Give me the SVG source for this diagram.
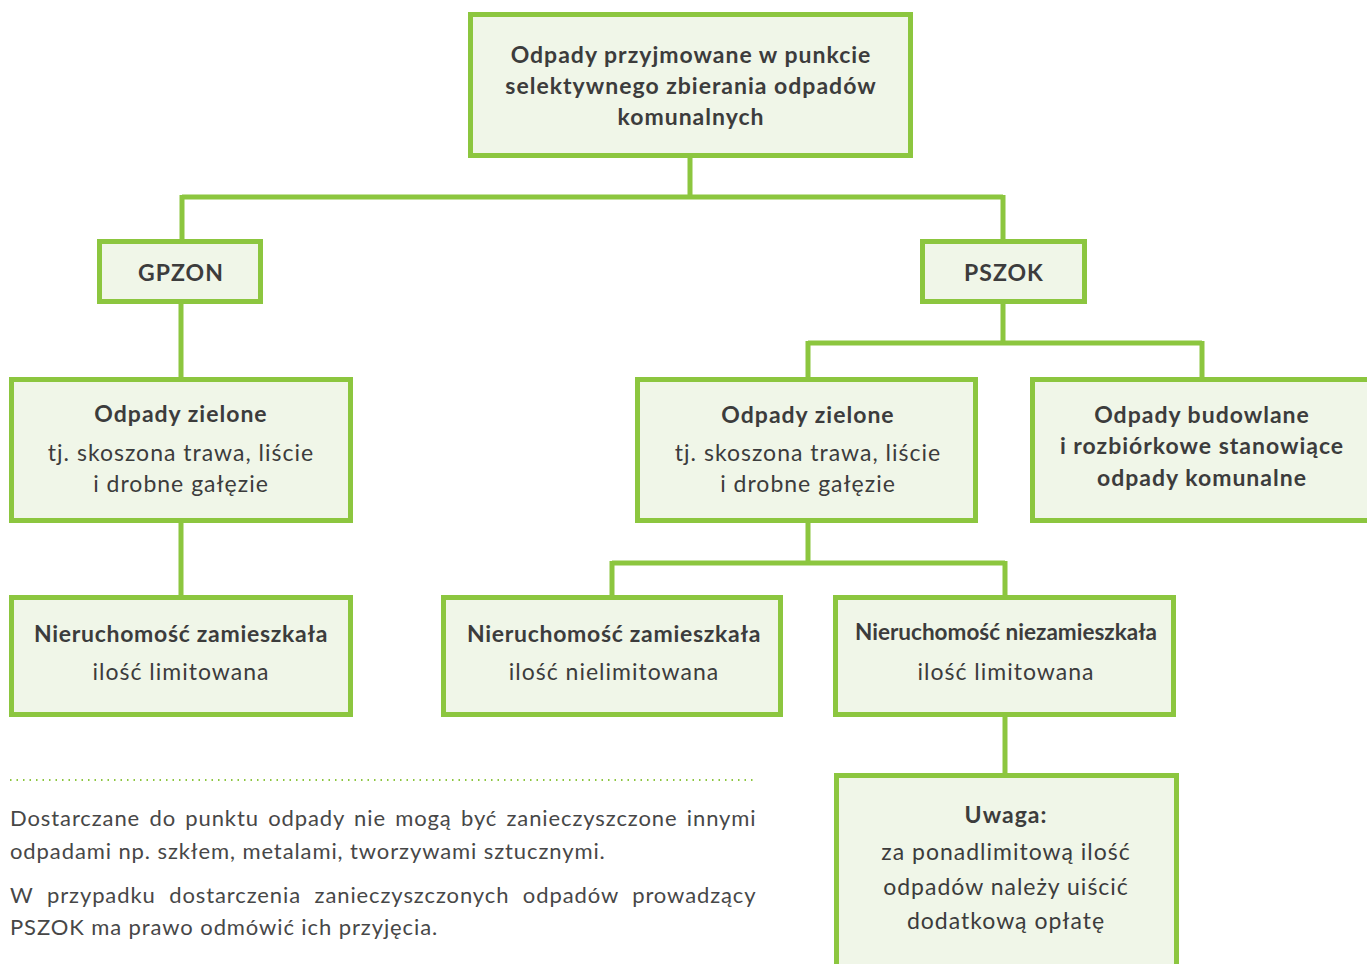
<svg xmlns="http://www.w3.org/2000/svg" width="1367" height="964" viewBox="0 0 1367 964">
<style>
.box{fill:#f0f6e8;stroke:#8cc63f;stroke-width:5}
.ln{fill:none;stroke:#8cc63f;stroke-width:5}
text{font-family:Lato,"Open Sans","Liberation Sans",sans-serif;fill:#3c3c3c;font-size:23px;letter-spacing:1px}
.b{font-weight:bold;text-anchor:middle}
.r{text-anchor:middle}
.p{font-size:22px;fill:#474747;letter-spacing:0.9px}
</style>
<rect width="1367" height="964" fill="#ffffff"/>
<g id="connectors">
<path class="ln" d="M690 158V197M182 197H1003M182 195V240M1003 195V240"/>
<path class="ln" d="M181 304V378M181 523V596"/>
<path class="ln" d="M1003 304V343M808 343H1202M808 341V378M1202 341V378"/>
<path class="ln" d="M808 523V563M612 563H1005M612 561V596M1005 561V596"/>
<path class="ln" d="M1005 717V773"/>
</g>
<g id="top">
<rect class="box" x="470.5" y="14.5" width="440" height="141"/>
<text class="b" x="691" y="63">Odpady przyjmowane w punkcie</text>
<text class="b" x="691" y="94">selektywnego zbierania odpadów</text>
<text class="b" x="691" y="125">komunalnych</text>
</g>
<g id="gpzon">
<rect class="box" x="99.5" y="241.5" width="161" height="60"/>
<text class="b" x="181" y="281">GPZON</text>
</g>
<g id="pszok">
<rect class="box" x="922.5" y="241.5" width="162" height="60"/>
<text class="b" x="1004" y="281">PSZOK</text>
</g>
<g id="zielone-left">
<rect class="box" x="11.5" y="379.5" width="339" height="141"/>
<text class="b" x="181" y="422">Odpady zielone</text>
<text class="r" x="181" y="461">tj. skoszona trawa, liście</text>
<text class="r" x="181" y="492">i drobne gałęzie</text>
</g>
<g id="zamieszkala-left">
<rect class="box" x="11.5" y="597.5" width="339" height="117"/>
<text class="b" x="181" y="642" style="letter-spacing:0.7px">Nieruchomość zamieszkała</text>
<text class="r" x="181" y="680">ilość limitowana</text>
</g>
<g id="zielone-mid">
<rect class="box" x="637.5" y="379.5" width="338" height="141"/>
<text class="b" x="808" y="423">Odpady zielone</text>
<text class="r" x="808" y="461">tj. skoszona trawa, liście</text>
<text class="r" x="808" y="492">i drobne gałęzie</text>
</g>
<g id="budowlane">
<rect class="box" x="1032.5" y="379.5" width="345" height="141"/>
<text class="b" x="1202" y="423">Odpady budowlane</text>
<text class="b" x="1202" y="454">i rozbiórkowe stanowiące</text>
<text class="b" x="1202" y="486">odpady komunalne</text>
</g>
<g id="zamieszkala-mid">
<rect class="box" x="443.5" y="597.5" width="337" height="117"/>
<text class="b" x="614" y="642" style="letter-spacing:0.7px">Nieruchomość zamieszkała</text>
<text class="r" x="614" y="680">ilość nielimitowana</text>
</g>
<g id="niezamieszkala">
<rect class="box" x="835.5" y="597.5" width="338" height="117"/>
<text class="b" x="1006" y="640" textLength="302" lengthAdjust="spacingAndGlyphs" style="letter-spacing:0">Nieruchomość niezamieszkała</text>
<text class="r" x="1006" y="680">ilość limitowana</text>
</g>
<g id="uwaga">
<rect class="box" x="836.5" y="775.5" width="340" height="200"/>
<text class="b" x="1006" y="823">Uwaga:</text>
<text class="r" x="1006" y="860">za ponadlimitową ilość</text>
<text class="r" x="1006" y="895">odpadów należy uiścić</text>
<text class="r" x="1006" y="929">dodatkową opłatę</text>
</g>
<g id="note">
<line x1="10" y1="780" x2="756" y2="780" stroke="#8cc63f" stroke-width="2" stroke-dasharray="1.5 5"/>
<text class="p" x="10" y="826" style="word-spacing:2.75px">Dostarczane do punktu odpady nie mogą być zanieczyszczone innymi</text>
<text class="p" x="10" y="859">odpadami np. szkłem, metalami, tworzywami sztucznymi.</text>
<text class="p" x="10" y="903" style="word-spacing:7px">W przypadku dostarczenia zanieczyszczonych odpadów prowadzący</text>
<text class="p" x="10" y="935">PSZOK ma prawo odmówić ich przyjęcia.</text>
</g>
</svg>
